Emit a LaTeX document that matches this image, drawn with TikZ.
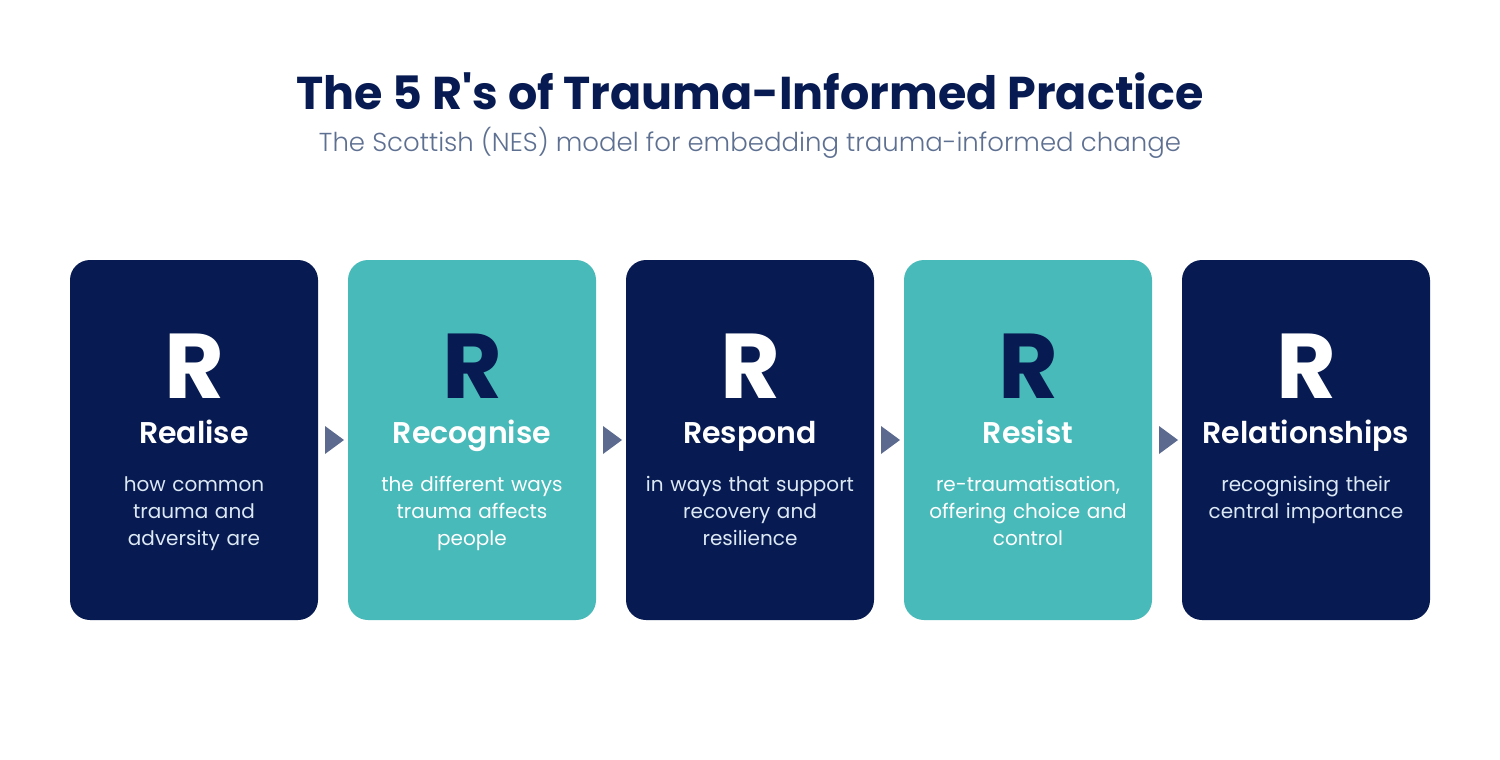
\documentclass[tikz,border=0pt]{standalone}
\usepackage{fontspec}
\setmainfont{Poppins}
\newfontfamily\poplight{Poppins}[UprightFont={* Light}]
\newfontfamily\popsemi{Poppins}[UprightFont={* SemiBold}]
\usetikzlibrary{positioning,calc}
\definecolor{main}{RGB}{7,27,82}
\definecolor{second}{RGB}{72,186,185}
\definecolor{third}{RGB}{91,106,142}
\definecolor{fourth}{RGB}{94,112,145}
\definecolor{fifth}{RGB}{220,232,243}
\tikzset{
  % box
	cstbox/.style   ={minimum width=124pt,minimum height=180pt,rounded corners=10pt,inner sep=0pt},
	cstbox1/.style  ={cstbox,fill=main},
	cstbox2/.style  ={cstbox,fill=second},
  % text
	cstletter/.style={anchor=base,inner sep=0pt,font=\bfseries\fontsize{46}{46}\selectfont},
	csthead/.style  ={anchor=base,inner sep=0pt,text=white,font=\popsemi\fontsize{15}{15}\selectfont},
	cstdesc/.style  ={anchor=base,inner sep=0pt,text width=130pt,align=center,font=\fontsize{10}{13.5}\selectfont},
  % arrow
	cstarr/.style   ={fill=third}
}

\begin{document}
\begin{tikzpicture}[x=.5pt,y=-.5pt]
	\useasboundingbox (0,0) rectangle (1500,760);
	% title
	\node[anchor=base,inner sep=0pt,text=main,font=\bfseries\fontsize{23}{23}\selectfont] (title) at (750,109) {The 5 R\textquotesingle s of Trauma-Informed Practice};
	\node[anchor=base,inner sep=0pt,text=fourth,font=\poplight\fontsize{13}{13}\selectfont] (subtitle) at (750,151) {The Scottish (NES) model for embedding trauma-informed change};
	% boxes
	\node[cstbox1] (b1) at (194,440) {};
	\node[cstbox2] (b2) at (472,440) {};
	\node[cstbox1] (b3) at (750,440) {};
	\node[cstbox2] (b4) at (1028,440) {};
	\node[cstbox1] (b5) at (1306,440) {};
	% letters
	\node[cstletter,text=white] (r1) at (194,398) {R};
	\node[cstletter,text=main] (r2) at (472,398) {R};
	\node[cstletter,text=white] (r3) at (750,398) {R};
	\node[cstletter,text=main] (r4) at (1028,398) {R};
	\node[cstletter,text=white] (r5) at (1306,398) {R};
	% headings
	\node[csthead] (h1) at (194,443) {Realise};
	\node[csthead] (h2) at (472,443) {Recognise};
	\node[csthead] (h3) at (750,443) {Respond};
	\node[csthead] (h4) at (1028,443) {Resist};
	\node[csthead] (h5) at (1306,443) {Relationships};
	% descriptions
	\node[cstdesc,text=fifth] (d1) at (194,491) {how common\\trauma and\\adversity are};
	\node[cstdesc,text=white] (d2) at (472,491) {the different ways\\trauma affects\\people};
	\node[cstdesc,text=fifth] (d3) at (750,491) {in ways that support\\recovery and\\resilience};
	\node[cstdesc,text=white] (d4) at (1028,491) {re-traumatisation,\\offering choice and\\control};
	\node[cstdesc,text=fifth] (d5) at (1306,491) {recognising their\\central importance};
	% arrows between boxes
	\fill[cstarr] ($(b1.east)!.5!(b2.west)$) ++(-8,-14) -- ++(19,14) -- ++(-19,14) -- cycle;
	\fill[cstarr] ($(b2.east)!.5!(b3.west)$) ++(-8,-14) -- ++(19,14) -- ++(-19,14) -- cycle;
	\fill[cstarr] ($(b3.east)!.5!(b4.west)$) ++(-8,-14) -- ++(19,14) -- ++(-19,14) -- cycle;
	\fill[cstarr] ($(b4.east)!.5!(b5.west)$) ++(-8,-14) -- ++(19,14) -- ++(-19,14) -- cycle;
\end{tikzpicture}
\end{document}
